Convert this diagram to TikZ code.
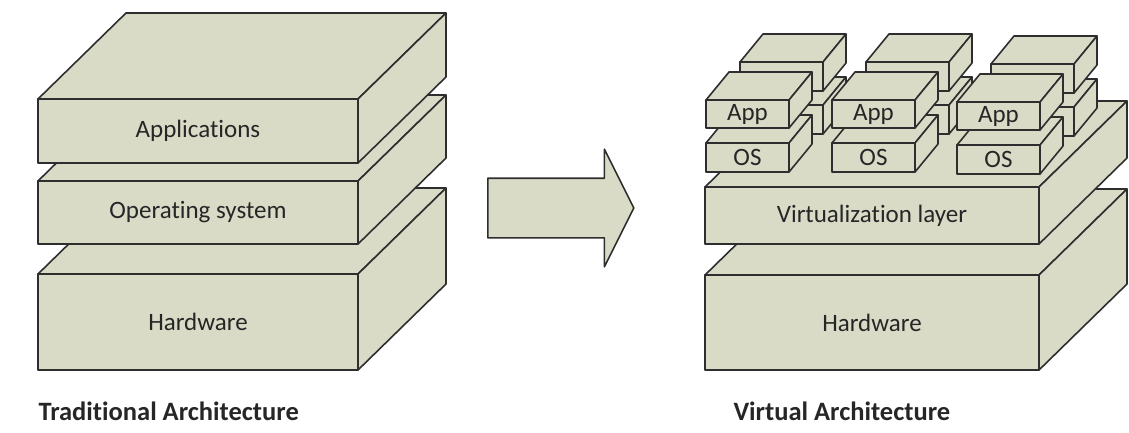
\documentclass[tikz,border=0pt]{standalone}
\usepackage{fontspec}
\setmainfont{Carlito}[Ligatures=NoCommon]
\usepackage{tikz}
\usetikzlibrary{shapes}
\definecolor{slab}{HTML}{D9DBC7}
\definecolor{edge}{HTML}{2E2E2E}
\definecolor{ink}{HTML}{262626}
\tikzset{
  % faces of a block
  face/.style={draw=edge,fill=slab,line width=1.6pt,line join=round},
  front/.style={face,rectangle,inner sep=0,outer sep=0,anchor=north west,
    text=ink,font=\fontsize{25}{29}\selectfont},
  % depth of the big and the small blocks
  deep/.style={shift={(88,-86)}},
  flat/.style={shift={(23,-28)}},
  title/.style={anchor=base west,text=ink,font=\fontsize{26.5}{30}\selectfont\bfseries},
}
% a block: name, corner, width, height, depth style, label
\newcommand{\block}[6]{%
  \node[front,minimum width=#3,minimum height=#4] (#1) at (#2) {#6};
  \draw[face] (#1.north west) -- ([#5]#1.north west) -- ([#5]#1.north east) -- (#1.north east) -- cycle;
  \draw[face] (#1.north east) -- ([#5]#1.north east) -- ([#5]#1.south east) -- (#1.south east) -- cycle;
}

\begin{document}
\begin{tikzpicture}[x=1pt,y=-1pt]
    \useasboundingbox (0,0) rectangle (1129,432);
    % traditional stack
    \block{hw}{38,274}{320}{96}{deep}{Hardware}
    \block{opsys}{38,181}{320}{63}{deep}{Operating system}
    \block{apps}{38,99}{320}{64}{deep}{Applications}
    \node[title] (trad) at (35,420) {Traditional Architecture};
    % the arrow between both
    \node[face,single arrow,anchor=west,inner xsep=0,inner ysep=29pt,
      minimum height=146pt,single arrow head extend=29pt,
      single arrow tip angle=126.9] (move) at (487,208) {};
    % virtual stack
    \block{vhw}{705,275}{334}{95}{deep}{Hardware}
    \block{virt}{705,187}{334}{57}{deep}{Virtualization layer}
    \foreach \x/\y [count=\i] in {706/100,832/100,957/102}{
      \block{bos\i}{\x+34,\y+5}{83}{29}{flat}{}
      \block{bapp\i}{\x+34,\y-38}{83}{29}{flat}{}
      \block{os\i}{\x,\y+43}{83}{29}{flat}{OS}
      \block{app\i}{\x,\y}{83}{28}{flat}{App}
    }
    \node[title] (virtual) at (730,420) {Virtual Architecture};
\end{tikzpicture}
\end{document}
